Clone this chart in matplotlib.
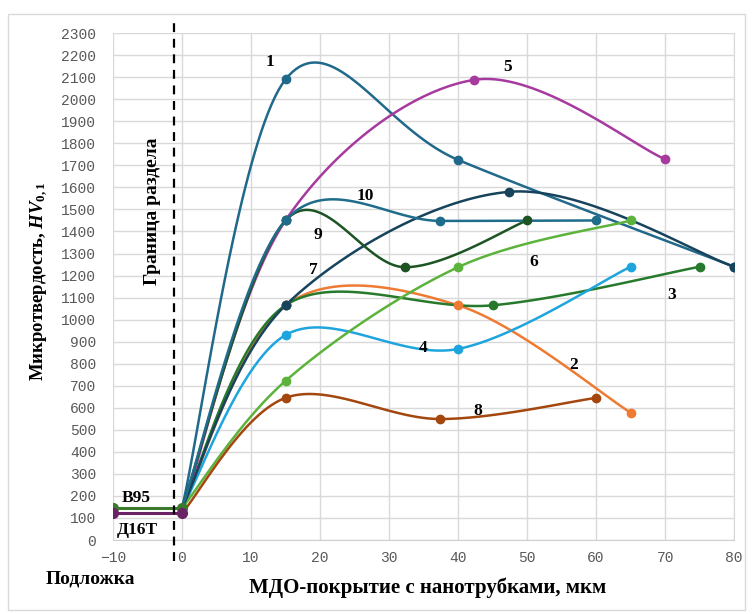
import numpy as np
import matplotlib
matplotlib.use("Agg")
import matplotlib.pyplot as plt

plt.rcParams['mathtext.fontset'] = 'custom'
plt.rcParams['mathtext.it'] = 'Liberation Serif:italic:bold'
plt.rcParams['mathtext.rm'] = 'Liberation Serif:bold'

## --data (x in um, y in HV)
x1 = [0, 15, 40, 80];     y1 = [145, 2090, 1725, 1240]
x2 = [0, 15, 40, 65];     y2 = [145, 1065, 1065, 578]
x3 = [0, 15, 45, 75];     y3 = [145, 1065, 1065, 1240]
x4 = [0, 15, 40, 65];     y4 = [145, 930, 867, 1240]
x5 = [0, 15, 42.3, 70];   y5 = [122, 1450, 2088, 1728]
x6 = [0, 15, 40, 65];     y6 = [145, 722, 1238, 1450]
x7 = [0, 15, 47.4, 80];   y7 = [145, 1065, 1580, 1240]
x8 = [0, 15, 37.4, 60];   y8 = [122, 645, 549, 645]
x9 = [0, 15, 32.3, 50];   y9 = [145, 1450, 1238, 1450]
x10 = [0, 15, 37.4, 60];  y10 = [145, 1450, 1448, 1450]
x_sub = [-10, 0]
y_v95 = [145, 145]
y_d16t = [122, 122]

series = [
    ("1", x1, y1, "#21698A", (12.7, 2170)),
    ("2", x2, y2, "#EE7B33", (56.7, 795)),
    ("3", x3, y3, "#277A2C", (70.9, 1112)),
    ("4", x4, y4, "#1EA5DE", (34.9, 872)),
    ("5", x5, y5, "#A73A9F", (47.2, 2146)),
    ("6", x6, y6, "#5CB33C", (50.9, 1262)),
    ("7", x7, y7, "#17445C", (19.0, 1226)),
    ("8", x8, y8, "#A4470F", (42.9, 585)),
    ("9", x9, y9, "#1D5424", (19.7, 1385)),
    ("10", x10, y10, "#1F6C8B", (26.5, 1562)),
]


def smooth(xs, ys, n=40):
    # excel-like smoothed line (catmull-rom bezier)
    p = np.column_stack([xs, ys]).astype(float)
    p = np.vstack([p[0], p, p[-1]])
    out = []
    t = np.linspace(0, 1, n)[:, None]
    for i in range(1, len(p) - 2):
        a, b = p[i], p[i + 1]
        c1 = a + (p[i + 1] - p[i - 1]) / 6
        c2 = b - (p[i + 2] - p[i]) / 6
        seg = (1 - t)**3 * a + 3 * (1 - t)**2 * t * c1 + 3 * (1 - t) * t**2 * c2 + t**3 * b
        out.append(seg)
    out = np.vstack(out)
    return out[:, 0], out[:, 1]


fig = plt.figure(figsize=(7.53, 6.14), dpi=100)
ax = fig.add_axes([0.150, 0.1205, 0.825, 0.8255])

tfont = dict(family="Liberation Serif", weight="bold", color="black")

for name, xs, ys, col, pos in series:
    sx, sy = smooth(xs, ys)
    ax.plot(sx, sy, color=col, lw=1.8, zorder=3)
    ax.plot(xs[1:], ys[1:], 'o', color=col, ms=6, zorder=4)
    ax.text(pos[0], pos[1], name, fontsize=12.5, ha="center", va="center", **tfont)

ax.plot(x_sub, y_v95, '-o', color="#3B7A2A", lw=2.2, ms=7, zorder=5)
ax.plot(x_sub, y_d16t, '-o', color="#6A2466", lw=2.2, ms=7, zorder=5)
ax.text(-6.7, 190, "В95", fontsize=12.5, ha="center", va="center", **tfont)
ax.text(-6.4, 45, "Д16Т", fontsize=12.5, ha="center", va="center", **tfont)

# interface line
ax.plot([-1.15, -1.15], [-95, 2350], ls=(0, (4, 3)), color="black", lw=1.6,
        clip_on=False, zorder=6)
ax.text(-4.2, 1493, "Граница раздела", rotation=90, fontsize=14,
        ha="center", va="center", **tfont)

ax.set_xlim(-10, 80)
ax.set_ylim(0, 2300)
ax.set_xticks(np.arange(-10, 81, 10))
ax.set_yticks(np.arange(0, 2301, 100))
ax.grid(True, color="#D9D9D9", lw=1)
ax.set_axisbelow(True)
for s in ["top", "left"]:
    ax.spines[s].set_visible(False)
ax.spines["right"].set_color("#D9D9D9")
ax.spines["bottom"].set_color("#D0D0D0")
ax.tick_params(length=0, labelsize=10.5, colors="#595959", pad=12)
for lab in ax.get_xticklabels() + ax.get_yticklabels():
    lab.set_family("Liberation Mono")
ax.tick_params(axis="x", pad=8)

ax.set_ylabel("Микротвердость, $HV_{0,1}$", fontsize=13.5, **tfont)
ax.yaxis.set_label_coords(-0.101, 0.511)
fig.text(0.568, 0.042, "МДО-покрытие с нанотрубками, мкм", fontsize=15,
         ha="center", va="center", **tfont)
fig.text(0.12, 0.057, "Подложка", fontsize=14, ha="center", va="center", **tfont)

# outer chart border
fig.patches.append(plt.Rectangle((0.011, 0.006), 0.978, 0.972, transform=fig.transFigure,
                                 fill=False, ec="#D9D9D9", lw=1))

fig.savefig("out.png", dpi=100)
